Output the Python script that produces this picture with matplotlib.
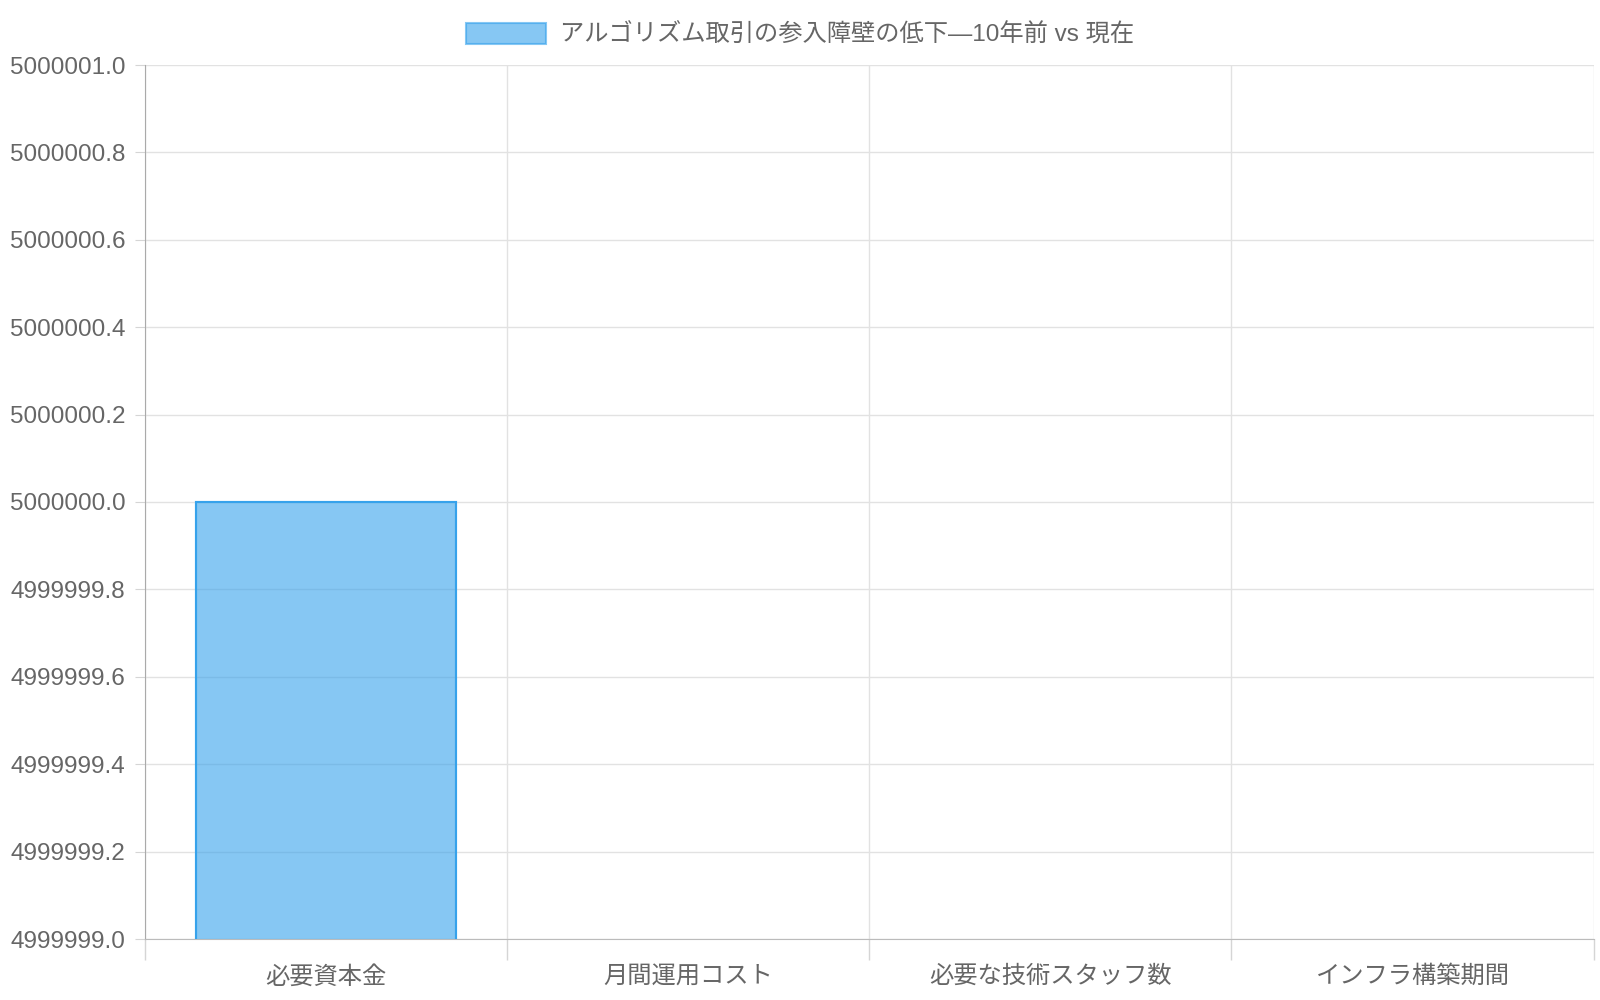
import matplotlib
matplotlib.use("Agg")
import matplotlib.pyplot as plt
from matplotlib.ticker import FormatStrFormatter, MultipleLocator, FixedLocator

plt.rcParams['font.family'] = ['Liberation Sans', 'Noto Sans CJK JP', 'DejaVu Sans']

# data
categories = ['必要資本金', '月間運用コスト', '必要な技術スタッフ数', 'インフラ構築期間']
# only the first value can be read off the chart (5000000); the other three fall
# below the y range (4999999-5000001) so they are not visible - these are placeholders
values = [5000000, 100000, 5, 12]
label = 'アルゴリズム取引の参入障壁の低下—10年前 vs 現在'

fig = plt.figure(figsize=(16, 10), dpi=100)
ax = fig.add_axes([0.0906, 0.061, 0.9054, 0.874])

x = range(len(categories))
ax.bar(x, values, width=0.72, color='#36a2eb', alpha=0.6, edgecolor='#36a2eb',
       linewidth=1.5, label=label, zorder=3)
# redraw the edge at full opacity
ax.bar(x, values, width=0.72, fill=False, edgecolor='#36a2eb', linewidth=1.5, zorder=4)

ax.set_ylim(4999999.0, 5000001.0)
ax.set_xlim(-0.5, len(categories) - 0.5)
ax.yaxis.set_major_locator(MultipleLocator(0.2))
ax.yaxis.set_major_formatter(FormatStrFormatter('%.1f'))

ax.set_xticks(list(x))
ax.set_xticklabels(categories)
ax.xaxis.set_minor_locator(FixedLocator([i - 0.5 for i in range(len(categories) + 1)]))

ax.tick_params(axis='x', which='major', length=0, pad=19, labelsize=17.5, labelcolor='#666666')
ax.tick_params(axis='x', which='minor', length=15, color='#d5d5d5', width=1)
ax.tick_params(axis='y', which='major', length=7, color='#d5d5d5', pad=7, labelsize=17.5,
               labelcolor='#666666')

ax.grid(True, which='major', axis='y', color='#e2e2e2', linewidth=1, zorder=0)
ax.grid(True, which='minor', axis='x', color='#e2e2e2', linewidth=1, zorder=0)

for s in ['top', 'right']:
    ax.spines[s].set_visible(False)
ax.spines['left'].set_color('#aaaaaa')
ax.spines['bottom'].set_color('#bbbbbb')

handles, labels = ax.get_legend_handles_labels()
fig.legend(handles[:1], labels[:1], loc='upper center', bbox_to_anchor=(0.5, 0.999),
           frameon=False, fontsize=17.5, labelcolor='#666666', handlelength=3.3,
           handleheight=0.95, handletextpad=0.55)

fig.savefig('out.png', dpi=100, facecolor='white')
